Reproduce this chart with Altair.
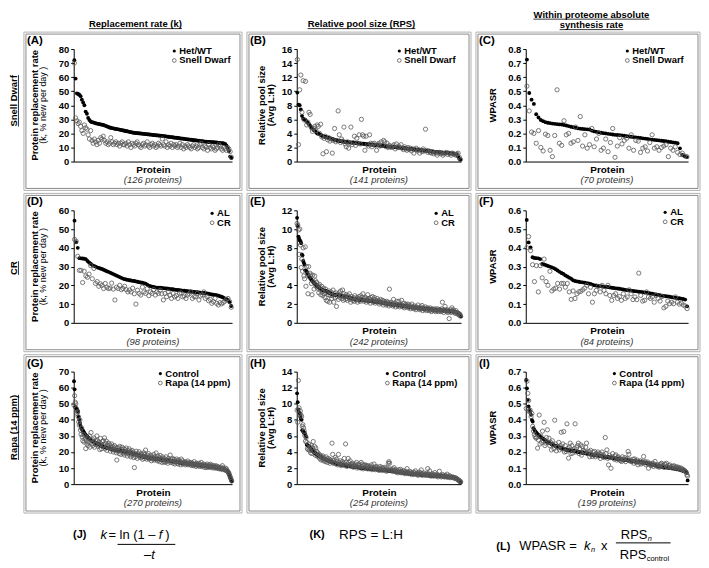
import altair as alt
import pandas as pd

FONT = "Liberation Sans"
ONE = pd.DataFrame({"d": [0]})

# ---------------- data ----------------
A_ctrl = [72, 59, 48.5, 48, 47.5, 46.5, 44, 42, 40, 35.5, 34, 31, 29.5, 28.5, 28,
          27.8, 27.5, 27.2, 27, 26.8, 26.6, 26.4, 26.2, 26, 25.7, 25.4, 25, 24.6, 24.2, 24, 23.8, 23.6, 23.4, 23.2, 23, 22.9, 22.7, 22.5, 22.3, 22.1, 21.9,
          21.7, 21.5, 21.3, 21.1, 20.9, 20.7, 20.5, 20.4, 20.3, 20.2, 20.1, 20, 19.9, 19.8, 19.7, 19.6, 19.5, 19.4, 19.3, 19.2, 19.1, 19, 18.9, 18.8, 18.7, 18.6, 18.5, 18.4, 18.3, 18.2,
          18.1, 18, 17.9, 17.7, 17.6, 17.5, 17.4, 17.3, 17.1, 17, 16.9, 16.8, 16.7, 16.5, 16.4, 16.3, 16.2, 16.1, 15.9, 15.8,
          15.7, 15.6, 15.5, 15.3, 15.2, 15.1, 15, 14.9, 14.8, 14.6, 14.5, 14.4, 14.3, 14.2, 14.1, 14, 13.9, 13.9, 13.8, 13.8,
          13.7, 13.6, 13.5, 13.4, 13.3, 13.2, 13.1, 13, 12.8, 12.5, 11.5, 9.5, 7.5, 3.5, 2.5]
A_trt = [70, 31, 29, 27, 28, 25, 22, 20, 26, 24, 23, 19, 16, 22, 15, 13, 16, 14, 12, 15, 13, 17, 16, 18, 15, 13, 14, 12, 13, 17, 14, 12, 13, 14, 12, 13, 11, 13, 14, 12,
         12, 13, 11, 14, 12, 10, 13, 12, 11, 13, 14, 12, 11, 10, 12, 13, 11, 12, 14, 11, 10, 12, 13, 11, 12, 10, 11, 13, 12, 11, 16, 12, 11, 14, 10, 12, 11, 13, 10, 12,
         11, 12, 10, 11, 13, 10, 12, 9, 11, 10, 12, 11, 10, 9, 11, 12, 10, 11, 9, 10, 12, 13, 10, 9, 11, 10, 8, 12, 10, 9, 11, 10, 8, 9, 10, 12, 11, 9, 8, 10, 9, 8, 10, 9, 7, 3]

B_ctrl = [9.8, 8.1, 8.0, 7.4, 6.5, 6.1, 6.0, 5.9, 5.7, 5.5, 5.3, 5.1, 4.9, 4.7, 4.5, 4.4, 4.2, 4.0, 3.95, 3.9,
          3.8, 3.7, 3.6, 3.55, 3.5, 3.45, 3.4, 3.35, 3.3, 3.25, 3.2, 3.15, 3.1, 3.05, 3.0, 2.97, 2.94, 2.91, 2.88, 2.85,
          2.83, 2.81, 2.79, 2.77, 2.75, 2.73, 2.71, 2.69, 2.67, 2.65, 2.63, 2.61, 2.6, 2.58, 2.57, 2.55, 2.54, 2.53, 2.51, 2.5,
          2.48, 2.46, 2.44, 2.42, 2.4, 2.38, 2.36, 2.35, 2.33, 2.31, 2.29, 2.27, 2.25, 2.23, 2.21, 2.2, 2.18, 2.16, 2.14, 2.12,
          2.1, 2.09, 2.08, 2.06, 2.05, 2.04, 2.02, 2.0,
          1.98, 1.96, 1.94, 1.92, 1.9, 1.88, 1.86, 1.84, 1.82, 1.8, 1.78, 1.76, 1.74, 1.72, 1.7, 1.68, 1.66, 1.64, 1.62, 1.6,
          1.58, 1.56, 1.54, 1.52, 1.5, 1.48, 1.46, 1.43, 1.4,
          1.39, 1.37, 1.36, 1.34, 1.33, 1.31, 1.3, 1.28, 1.27, 1.25, 1.24, 1.22, 1.21, 1.19, 1.18, 1.16, 1.15, 1.13, 1.12, 1.1,
          1.0, 0.7, 0.4, 0.25]
B_trt = [14.5, 2.4, 10.2, 12.3, 7.0, 11.5, 5.9, 11.4, 5.2, 5.6, 7.0, 6.7, 4.8, 4.3, 4.7, 5.0, 4.4, 5.2, 5.0, 4.0,
         5.3, 3.5, 1.1, 3.3, 3.6, 1.4, 3.1, 3.4, 2.9, 3.2, 1.2, 3.0, 4.7, 2.8, 3.0, 7.2, 3.8, 2.7, 3.2, 2.9,
         4.9, 2.5, 2.1, 2.8, 1.9, 2.6, 4.9, 2.4, 2.7, 3.6, 2.3, 3.3, 2.6, 3.8, 2.5, 6.0, 3.8, 3.6, 1.6, 3.6,
         2.4, 2.2, 3.8, 2.6, 2.1, 2.5, 2.6, 2.3, 1.6, 2.4, 2.6, 2.2, 2.8, 2.3, 3.0, 2.8, 2.1, 2.6, 2.0, 2.3,
         2.1, 2.0, 2.2, 2.4, 1.8, 2.5, 2.0, 2.2, 2.0, 2.4, 1.9, 1.7, 2.1, 1.8, 1.6, 2.0, 1.7, 1.9, 1.5, 1.8,
         1.2, 1.7, 1.9, 1.5, 1.7, 1.2, 1.6, 1.4, 1.8, 1.5, 4.6, 1.6, 1.3, 1.5, 1.3, 1.2, 1.4, 1.1, 1.3, 1.2,
         0.9, 1.2, 1.3, 1.1, 1.2, 0.9, 1.1, 1.2, 1.3, 1.0, 1.2, 1.1, 0.9, 1.2, 1.1, 1.0, 0.9, 1.1, 1.2, 0.6, 0.3]

C_ctrl = [0.725, 0.487, 0.44, 0.41, 0.336, 0.313, 0.295, 0.287, 0.28, 0.276, 0.273, 0.27, 0.268, 0.266, 0.264, 0.263, 0.26, 0.256, 0.252, 0.247,
          0.244, 0.24, 0.236, 0.234, 0.232, 0.23, 0.229, 0.228, 0.22, 0.214, 0.211, 0.208, 0.205, 0.202, 0.2, 0.197, 0.195, 0.192, 0.19, 0.189,
          0.188, 0.186, 0.183, 0.181, 0.178, 0.176, 0.174, 0.172, 0.17, 0.168, 0.165, 0.163, 0.161, 0.158, 0.156, 0.154, 0.152, 0.15, 0.148, 0.146,
          0.144, 0.141, 0.139, 0.136, 0.134, 0.13, 0.094, 0.047, 0.038, 0.031]
C_trt = [0.536, 0.36, 0.21, 0.2, 0.13, 0.22, 0.1, 0.075, 0.195, 0.185, 0.08, 0.035, 0.185, 0.51, 0.13, 0.115, 0.29, 0.19, 0.2, 0.13,
         0.14, 0.245, 0.15, 0.32, 0.11, 0.19, 0.095, 0.12, 0.235, 0.105, 0.16, 0.2, 0.08, 0.095, 0.16, 0.07, 0.135, 0.235, 0.03, 0.11,
         0.17, 0.125, 0.15, 0.165, 0.095, 0.19, 0.08, 0.15, 0.145, 0.065, 0.095, 0.105, 0.075, 0.135, 0.19, 0.095, 0.105, 0.08, 0.1, 0.11,
         0.12, 0.035, 0.095, 0.08, 0.105, 0.065, 0.05, 0.06, 0.04, 0.035]

D_ctrl = [54.5, 43, 40, 34.5, 34.4, 34.3, 34.2, 34, 33, 32.2, 31.5, 30.8, 30.4, 30, 29.6, 29.3, 29, 28.7, 28.3, 27.9,
          27.5, 27.2, 26.8, 26.4, 26, 25.6, 25.2, 24.8, 24.4, 24, 23.6, 23.3, 23.1, 22.9, 22.7, 22.6, 22.4, 22.3, 22.1, 21.9,
          21.7, 21.5, 21.4, 21.2, 20.9, 20.4, 19.8, 19.6, 19.3, 19.1, 18.9, 18.8, 18.7, 18.7, 18.6, 18.5, 18.4, 18.3, 18.2, 18.1,
          18, 17.9, 17.7, 17.6, 17.5, 17.4, 17.3, 17.2, 17.1, 17, 16.9, 16.8, 16.7, 16.6, 16.5, 16.4, 16.3, 16.2, 16.1, 16,
          15.9, 15.8, 15.7, 15.5, 15.3, 15.1, 15, 14.9, 14.8, 14.5, 14.2, 13.9, 13.5, 13, 12.6, 12.2, 11, 9]
D_trt = [44.5, 43.5, 35.5, 28, 28, 21.5, 27.5, 25, 24.3, 26, 30.5, 23.5, 29, 21, 22, 19.5, 20.8, 20, 18.3, 21,
         19, 18.3, 18.5, 21.2, 18, 12.2, 19, 18.3, 20, 17.7, 18.3, 19.5, 17.7, 16.5, 17.5, 16.5, 18.5, 15.5, 10, 17.4,
         15.7, 14.8, 19, 16.5, 15.7, 18.3, 14.5, 16.5, 15.7, 17.7, 14.8, 16.5, 15.7, 17.4, 15.5, 12.2, 15.7, 13.9, 16.5, 14.8,
         13, 15.7, 13.9, 14.5, 13, 15.7, 16, 13.9, 14.3, 13, 14.8, 15.5, 16.5, 13, 14, 13.9, 15.7, 12.2, 14.3, 15,
         16.5, 13, 14, 11.8, 12.5, 10.4, 11.3, 13, 10.4, 9.5, 10.8, 10.1, 10.8, 11.5, 12.5, 13, 11.3, 8.3]

E_ctrl = [11.2, 10.3, 9.2, 9.0, 8.8, 8.7, 8.5, 7.3, 7.2, 6.6,
          6.4, 6.2, 5.6, 5.55, 5.5, 5.35, 5.2, 5.05, 4.95, 4.8,
          4.7, 4.6, 4.5, 4.42, 4.34, 4.26, 4.18, 4.1, 4.04, 3.98,
          3.92, 3.86, 3.8, 3.74, 3.68, 3.62, 3.56, 3.5, 3.48, 3.46,
          3.44, 3.42, 3.4, 3.36, 3.33, 3.29, 3.26, 3.22, 3.19, 3.15,
          3.12, 3.09, 3.06, 3.03, 3.0, 2.99, 2.98, 2.97, 2.96, 2.95,
          2.94, 2.93, 2.92, 2.91, 2.9, 2.88, 2.87, 2.85, 2.84, 2.82,
          2.81, 2.79, 2.78, 2.76, 2.75, 2.73, 2.71, 2.69, 2.67, 2.65,
          2.63, 2.61, 2.59, 2.57, 2.55, 2.54, 2.53, 2.52, 2.51, 2.5,
          2.49, 2.48, 2.47, 2.46, 2.45, 2.44, 2.44, 2.43, 2.42, 2.41,
          2.41, 2.4, 2.39, 2.39, 2.38, 2.37, 2.36, 2.35, 2.34, 2.33,
          2.32, 2.31, 2.29, 2.28, 2.27, 2.26, 2.25, 2.24, 2.23, 2.22,
          2.21, 2.2, 2.19, 2.18, 2.17, 2.16, 2.14, 2.13, 2.12, 2.1,
          2.09, 2.07, 2.06, 2.04, 2.03, 2.02, 2.01, 2.0, 1.99, 1.98,
          1.96, 1.95, 1.94, 1.93, 1.92, 1.91, 1.9, 1.89, 1.88, 1.87,
          1.87, 1.86, 1.86, 1.85, 1.84, 1.83, 1.82, 1.81, 1.8, 1.79,
          1.78, 1.77, 1.76, 1.75, 1.74, 1.73, 1.72, 1.71, 1.7, 1.69,
          1.68, 1.67, 1.65, 1.64, 1.63, 1.62, 1.61, 1.6, 1.59, 1.58,
          1.57, 1.56, 1.55, 1.54, 1.53, 1.53, 1.52, 1.51, 1.5, 1.49,
          1.49, 1.48, 1.48, 1.47, 1.46, 1.45, 1.45, 1.44, 1.43, 1.42,
          1.42, 1.41, 1.41, 1.4, 1.39, 1.39, 1.38, 1.37, 1.36, 1.36,
          1.35, 1.34, 1.34, 1.33, 1.33, 1.32, 1.32, 1.31, 1.31, 1.3,
          1.3, 1.3, 1.29, 1.29, 1.28, 1.27, 1.26, 1.25, 1.23, 1.21,
          1.19, 1.17, 1.16, 1.15, 1.12, 1.1, 1.07, 1.04, 1.0, 0.94,
          0.87, 0.7]
E_trt = [10.6, 10.4, 9.9, 7.3, 10.0, 8.3, 5.9, 6.8, 5.5, 8.0,
         5.0, 4.7, 8.1, 3.9, 6.0, 5.2, 3.1, 6.0, 4.9, 5.3,
         5.1, 4.2, 3.0, 5.1, 4.4, 3.6, 5.0, 4.5, 3.9, 4.3,
         3.7, 4.0, 3.2, 4.1, 3.5, 3.0, 3.9, 3.3, 2.9, 3.7,
         3.1, 2.7, 3.6, 2.4, 3.2, 2.3, 3.0, 3.4, 2.2, 2.9,
         3.3, 2.6, 2.9, 3.5, 2.2, 3.1, 2.7, 3.2, 1.75, 2.8,
         3.0, 2.5, 3.2, 2.7, 3.4, 2.9, 2.6, 3.5, 2.4, 3.1,
         2.8, 2.5, 3.0, 2.6, 2.4, 2.9, 2.7, 3.1, 2.5, 2.2,
         2.8, 2.6, 2.4, 2.7, 2.3, 2.9, 2.5, 2.4, 2.7, 2.2,
         2.6, 2.8, 2.4, 2.3, 2.9, 2.5, 2.7, 3.1, 2.3, 2.6,
         2.4, 2.7, 2.2, 2.5, 3.0, 2.3, 2.6, 2.5, 2.1, 2.7,
         2.4, 2.8, 2.2, 2.5, 2.7, 2.1, 2.4, 2.3, 2.6, 2.2,
         2.4, 2.0, 2.3, 2.5, 2.1, 2.2, 2.4, 1.9, 2.3, 2.1,
         2.2, 1.9, 2.3, 2.0, 2.2, 1.8, 3.6, 2.1, 1.9, 2.2,
         2.0, 1.8, 2.5, 1.9, 2.1, 1.7, 2.0, 2.3, 1.8, 1.9,
         2.3, 1.7, 2.0, 1.9, 2.4, 1.8, 1.7, 2.1, 1.6, 1.9,
         2.0, 1.7, 1.8, 2.0, 1.6, 1.9, 1.7, 1.5, 1.8, 2.0,
         1.6, 1.7, 1.5, 1.8, 1.6, 1.4, 1.7, 1.6, 1.9, 1.5,
         1.6, 1.4, 1.7, 1.5, 1.85, 1.3, 1.6, 1.5, 1.4, 1.7,
         1.5, 1.3, 1.6, 1.4, 1.5, 1.3, 1.6, 1.4, 1.2, 1.5,
         1.33, 1.4, 1.3, 1.5, 1.2, 1.4, 1.3, 1.5, 1.2, 1.4,
         1.3, 1.4, 1.2, 1.5, 2.2, 1.3, 1.1, 1.4, 1.75, 1.3,
         1.2, 1.4, 1.1, 1.3, 0.45, 1.2, 1.4, 1.1, 1.6, 1.3,
         1.4, 1.15, 1.2, 1.0, 1.3, 1.05, 1.1, 0.9, 1.0, 0.8,
         0.9, 0.7]

F_ctrl = [0.549, 0.429, 0.402, 0.35, 0.346, 0.345, 0.344, 0.34, 0.314, 0.311,
          0.307, 0.303, 0.3, 0.296, 0.292, 0.286, 0.279, 0.272, 0.266, 0.261,
          0.253, 0.247, 0.241, 0.235, 0.227, 0.223, 0.221, 0.219, 0.217, 0.216,
          0.214, 0.212, 0.21, 0.207, 0.204, 0.2, 0.199, 0.197, 0.196, 0.194,
          0.193, 0.192, 0.191, 0.189, 0.187, 0.186, 0.184, 0.183, 0.182, 0.18,
          0.178, 0.176, 0.174, 0.173, 0.172, 0.17, 0.169, 0.168, 0.166, 0.165,
          0.164, 0.162, 0.161, 0.159, 0.157, 0.155, 0.153, 0.151, 0.149, 0.147,
          0.145, 0.144, 0.142, 0.141, 0.139, 0.137, 0.135, 0.134, 0.132, 0.131,
          0.129, 0.127, 0.124, 0.088]
F_trt = [0.40, 0.46, 0.385, 0.31, 0.22, 0.305, 0.165, 0.305, 0.24, 0.34, 0.22, 0.2, 0.275, 0.17, 0.18, 0.185, 0.21, 0.18, 0.21, 0.21,
         0.19, 0.21, 0.165, 0.125, 0.17, 0.13, 0.155, 0.165, 0.168, 0.176, 0.185, 0.2, 0.155, 0.19, 0.11, 0.155, 0.173, 0.194, 0.165, 0.2,
         0.173, 0.155, 0.2, 0.146, 0.12, 0.146, 0.155, 0.13, 0.14, 0.12, 0.155, 0.13, 0.138, 0.176, 0.155, 0.124, 0.138, 0.124, 0.265, 0.146,
         0.116, 0.12, 0.165, 0.138, 0.13, 0.138, 0.11, 0.146, 0.13, 0.116, 0.14, 0.08, 0.088, 0.116, 0.102, 0.11, 0.102, 0.138, 0.11, 0.1,
         0.105, 0.095, 0.09, 0.076]

G_ctrl = [64, 59, 48, 47.5, 47, 46.5, 46, 45, 42, 40,
          38, 36.5, 35, 34.5, 34, 33.5, 32.8, 32.2, 31.6, 31,
          30.5, 30.1, 29.7, 29.3, 28.9, 28.6, 28.3, 28, 27.7, 27.4,
          27.1, 26.8, 26.6, 26.4, 26.2, 26, 25.9, 25.7, 25.5, 25.4,
          25.3, 25.1, 24.9, 24.7, 24.5, 24.3, 24.1, 23.9, 23.7, 23.5,
          23.3, 23.2, 23.1, 23, 22.9, 22.8, 22.7, 22.6, 22.5, 22.4,
          22.3, 22.2, 22.1, 22, 21.9, 21.8, 21.7, 21.6, 21.5, 21.4,
          21.3, 21.25, 21.2, 21.1, 21, 20.95, 20.9, 20.85, 20.8, 20.75,
          20.7, 20.65, 20.6, 20.55, 20.5, 20.4, 20.3, 20.2, 20.1, 20.0,
          19.95, 19.9, 19.85, 19.8, 19.7, 19.6, 19.5, 19.3, 19.2, 19.0,
          18.9, 18.8, 18.7, 18.6, 18.5, 18.5, 18.4, 18.3, 18.2, 18.1,
          18.0, 17.9, 17.8, 17.7, 17.6, 17.5, 17.4, 17.3, 17.2, 17.1,
          17.0, 16.9, 16.8, 16.75, 16.7, 16.6, 16.5, 16.45, 16.4, 16.3,
          16.25, 16.2, 16.15, 16.1, 16.05, 16.0, 15.95, 15.9, 15.85, 15.8,
          15.75, 15.7, 15.65, 15.6, 15.55, 15.5, 15.45, 15.4, 15.35, 15.3,
          15.25, 15.2, 15.15, 15.1, 15.05, 15.0, 14.95, 14.9, 14.85, 14.8,
          14.75, 14.7, 14.65, 14.6, 14.55, 14.5, 14.45, 14.4, 14.35, 14.3,
          14.2, 14.1, 14.0, 13.9, 13.85, 13.8, 13.75, 13.7, 13.6, 13.5,
          13.45, 13.4, 13.35, 13.3, 13.25, 13.2, 13.15, 13.1, 13.05, 13.0,
          12.95, 12.9, 12.85, 12.8, 12.75, 12.7, 12.65, 12.6, 12.55, 12.5,
          12.45, 12.4, 12.35, 12.3, 12.25, 12.2, 12.15, 12.1, 12.05, 12.0,
          11.95, 11.9, 11.85, 11.8, 11.75, 11.7, 11.65, 11.6, 11.55, 11.5,
          11.45, 11.4, 11.35, 11.3, 11.25, 11.2, 11.15, 11.1, 11.05, 11.0,
          10.95, 10.9, 10.85, 10.8, 10.75, 10.7, 10.65, 10.6, 10.55, 10.5,
          10.45, 10.4, 10.35, 10.3, 10.25, 10.2, 10.15, 10.1, 10.0, 9.9,
          9.8, 9.7, 9.6, 9.5, 9.4, 9.3, 9.2, 9.1, 8.9, 8.6,
          8.3, 8.0, 7.6, 7.0, 6.5, 5.5, 4.5, 3.5, 2.5, 1.8]
G_trt = [49, 55, 51, 50, 47, 44, 45, 42, 38.7, 36.7,
         40, 33.6, 31, 35, 29.4, 27, 31, 26.2, 30, 28,
         22.1, 27, 25, 28.8, 24, 26, 30, 23, 27.5, 32.1,
         25.3, 28, 24, 26.5, 28.8, 23, 25, 27, 24.5, 30,
         27.2, 23.5, 26, 24, 21.5, 28.4, 25, 22, 26.5, 23.5,
         27, 24.5, 28.8, 22, 25.5, 26.8, 21, 24, 23.3, 25.5,
         22.5, 24.5, 20.5, 23, 25, 21.5, 23.5, 20, 22.5, 24,
         21, 23, 19.5, 15, 22.5, 20.5, 22.6, 19, 23.5, 21,
         18.5, 21.8, 23, 20, 19, 22, 18.1, 21.5, 19.5, 22.5,
         20, 17.5, 21, 19, 22, 18, 20.5, 17, 19.5, 21,
         18, 20, 16.5, 10.3, 19, 17.1, 20.5, 18.5, 16, 19,
         17.5, 20.2, 18, 16.5, 19, 17, 18.5, 15.5, 17.5, 19.5,
         16, 18.5, 21.2, 17, 15.5, 18, 16.5, 19, 15.6, 17,
         16, 18, 14.5, 17, 15.6, 16.5, 18.5, 15, 17, 15.6,
         19.4, 16, 14.5, 17.5, 15, 16.5, 14, 17.9, 15.5, 16,
         13.5, 17, 15, 14, 16, 13.5, 15, 17, 14, 15,
         13, 16, 14.5, 15, 18.1, 13.5, 15.5, 14, 16, 13,
         14, 15.5, 12.5, 14.5, 14, 15.6, 13, 14.5, 12.5, 15,
         13.5, 14, 12, 15.6, 13, 14.5, 12.5, 13.5, 13, 14,
         12, 13.5, 13, 12.5, 14.4, 12, 13.5, 12.5, 13, 12,
         13.5, 11.5, 13, 12.5, 11.5, 14, 12, 12.5, 11, 13,
         12, 11.5, 12.1, 13, 11, 12.5, 11.5, 13.5, 11, 12,
         11.5, 12.5, 10.5, 11.5, 12, 10.3, 11.5, 12.5, 10.5, 11,
         12, 10.5, 11.5, 12.4, 10.5, 11, 11.5, 10, 11.5, 10.5,
         11, 10, 11.5, 10.5, 9.9, 11, 10, 10.5, 9.5, 10,
         9.5, 10.5, 9.5, 11.5, 9, 10, 9.5, 9, 10, 8.5,
         9.5, 8.5, 8, 7.5, 7, 6, 5, 4, 3, 2]

H_ctrl = [11.3, 10.2, 9.3, 9.0, 8.8, 8.4, 8.1, 8.0, 6.7, 6.6,
          6.5, 6.4, 6.3, 6.1, 5.9, 4.9, 4.85, 4.8, 4.7, 4.6,
          4.5, 4.4, 4.3, 4.22, 4.14, 4.06, 3.98, 3.9, 3.84, 3.78,
          3.72, 3.66, 3.6, 3.55, 3.5, 3.45, 3.4, 3.35, 3.3, 3.25,
          3.2, 3.16, 3.12, 3.09, 3.06, 3.02, 2.99, 2.95, 2.92, 2.88,
          2.85, 2.82, 2.79, 2.77, 2.74, 2.71, 2.68, 2.65, 2.62, 2.59,
          2.56, 2.55, 2.53, 2.52, 2.5, 2.49, 2.47, 2.46, 2.44, 2.42,
          2.41, 2.4, 2.38, 2.37, 2.36, 2.34, 2.33, 2.32, 2.3, 2.29,
          2.27, 2.26, 2.25, 2.24, 2.23, 2.21, 2.2, 2.19, 2.18, 2.17,
          2.16, 2.15, 2.14, 2.12, 2.11, 2.09, 2.08, 2.06, 2.05, 2.04,
          2.02, 2.01, 2.0, 1.99, 1.98, 1.98, 1.97, 1.96, 1.95, 1.94,
          1.94, 1.93, 1.93, 1.92, 1.91, 1.9, 1.89, 1.88, 1.88, 1.87,
          1.86, 1.86, 1.85, 1.85, 1.84, 1.83, 1.82, 1.81, 1.8, 1.79,
          1.78, 1.78, 1.77, 1.76, 1.75, 1.74, 1.73, 1.72, 1.71, 1.7,
          1.7, 1.69, 1.69, 1.68, 1.67, 1.65, 1.64, 1.62, 1.61, 1.6,
          1.59, 1.58, 1.57, 1.56, 1.55, 1.54, 1.52, 1.51, 1.5, 1.48,
          1.47, 1.46, 1.45, 1.44, 1.43, 1.42, 1.41, 1.39, 1.38, 1.37,
          1.36, 1.35, 1.33, 1.32, 1.31, 1.3, 1.3, 1.29, 1.28, 1.28,
          1.27, 1.26, 1.26, 1.25, 1.24, 1.23, 1.23, 1.22, 1.21, 1.2,
          1.2, 1.19, 1.18, 1.17, 1.16, 1.15, 1.14, 1.14, 1.13, 1.12,
          1.11, 1.1, 1.1, 1.09, 1.08, 1.07, 1.07, 1.06, 1.06, 1.05,
          1.05, 1.04, 1.04, 1.03, 1.03, 1.03, 1.02, 1.02, 1.01, 1.01,
          1.0, 1.0, 0.99, 0.99, 0.98, 0.98, 0.97, 0.97, 0.96, 0.95,
          0.95, 0.94, 0.93, 0.92, 0.91, 0.9, 0.89, 0.88, 0.87, 0.86,
          0.85, 0.84, 0.83, 0.82, 0.81, 0.78, 0.72, 0.65, 0.58, 0.5,
          0.42, 0.35, 0.28, 0.2]
H_trt = [9.2, 7.7, 12.9, 9.5, 8.8, 9.1, 8.6, 8.4, 7.2, 7.4,
         7.0, 6.6, 6.05, 5.35, 5.8, 5.2, 4.4, 4.3, 5.0, 4.2,
         4.6, 3.9, 4.8, 3.8, 4.5, 5.3, 4.1, 4.7, 3.6, 4.5,
         4.1, 3.5, 3.9, 3.4, 3.7, 3.2, 3.6, 3.0, 3.4, 3.1,
         3.5, 2.9, 3.3, 3.1, 2.8, 3.4, 3.0, 2.7, 3.2, 2.9,
         3.1, 2.6, 3.0, 2.8, 5.1, 3.7, 2.6, 3.0, 2.7, 3.3,
         2.5, 3.1, 2.8, 2.4, 3.7, 2.7, 2.5, 2.9, 2.3, 2.6,
         2.8, 2.4, 2.6, 3.2, 2.3, 5.0, 2.7, 2.2, 2.5, 3.2,
         2.7, 2.4, 2.9, 2.2, 2.5, 2.3, 2.6, 2.1, 2.4, 2.3,
         2.5, 2.2, 2.7, 2.0, 2.4, 2.1, 2.5, 2.3, 2.0, 2.7,
         2.2, 2.5, 1.9, 2.3, 2.1, 2.4, 2.0, 2.35, 2.2, 1.9,
         2.3, 2.1, 1.9, 2.2, 2.0, 2.4, 1.8, 2.1, 1.9, 2.5,
         2.0, 1.8, 2.2, 1.9, 2.1, 1.8, 2.0, 1.7, 2.2, 1.9,
         1.8, 2.1, 1.7, 2.0, 1.9, 1.75, 2.1, 1.8, 1.6, 2.0,
         1.8, 2.6, 2.8, 2.6, 1.9, 1.7, 1.8, 1.6, 1.9, 1.7,
         2.05, 1.6, 1.8, 1.5, 1.7, 1.6, 1.4, 1.8, 1.5, 1.6,
         1.85, 1.4, 1.6, 1.5, 1.7, 1.4, 1.5, 1.3, 1.6, 1.4,
         1.93, 1.5, 1.3, 1.4, 1.6, 1.3, 1.5, 1.2, 1.4, 1.3,
         1.5, 1.2, 1.4, 1.65, 1.3, 1.2, 1.4, 1.1, 1.3, 1.5,
         1.2, 1.4, 1.77, 1.1, 1.3, 1.2, 1.4, 1.1, 1.2, 1.3,
         1.1, 1.2, 1.93, 1.3, 1.1, 1.65, 1.2, 1.0, 1.15, 1.3,
         1.1, 1.0, 1.2, 1.44, 1.1, 1.0, 1.2, 1.05, 0.9, 1.1,
         1.6, 1.0, 1.1, 0.9, 1.03, 1.2, 0.95, 1.0, 0.9, 1.1,
         1.0, 0.9, 1.24, 0.85, 1.0, 0.9, 1.05, 0.8, 0.9, 0.85,
         0.9, 0.8, 0.85, 0.75, 0.8, 0.7, 0.75, 0.65, 0.6, 0.55,
         0.5, 0.4, 0.35, 0.3]

I_ctrl = [0.648, 0.596, 0.524, 0.483, 0.462, 0.451, 0.431, 0.4, 0.389, 0.348,
          0.338, 0.33, 0.323, 0.317, 0.311, 0.306, 0.301, 0.296, 0.292, 0.288,
          0.285, 0.282, 0.278, 0.274, 0.269, 0.265, 0.262, 0.26, 0.257, 0.255,
          0.253, 0.25, 0.248, 0.245, 0.243, 0.24, 0.238, 0.235, 0.233, 0.231,
          0.23, 0.228, 0.227, 0.225, 0.224, 0.222, 0.22, 0.218, 0.216, 0.214,
          0.213, 0.212, 0.211, 0.21, 0.21, 0.209, 0.208, 0.207, 0.207, 0.206,
          0.205, 0.204, 0.203, 0.202, 0.201, 0.2, 0.199, 0.198, 0.197, 0.196,
          0.195, 0.194, 0.193, 0.192, 0.191, 0.19, 0.189, 0.187, 0.186, 0.185,
          0.184, 0.183, 0.182, 0.181, 0.18, 0.18, 0.179, 0.178, 0.178, 0.177,
          0.176, 0.175, 0.174, 0.173, 0.172, 0.171, 0.17, 0.169, 0.169, 0.168,
          0.167, 0.167, 0.166, 0.165, 0.165, 0.164, 0.163, 0.162, 0.161, 0.16,
          0.16, 0.159, 0.158, 0.157, 0.156, 0.155, 0.154, 0.154, 0.153, 0.152,
          0.151, 0.15, 0.149, 0.149, 0.148, 0.148, 0.147, 0.146, 0.146, 0.145,
          0.145, 0.144, 0.143, 0.142, 0.141, 0.14, 0.14, 0.139, 0.138, 0.137,
          0.137, 0.136, 0.135, 0.134, 0.133, 0.133, 0.132, 0.131, 0.13, 0.129,
          0.128, 0.126, 0.124, 0.123, 0.122, 0.121, 0.12, 0.119, 0.118, 0.116,
          0.115, 0.114, 0.112, 0.111, 0.11, 0.109, 0.108, 0.107, 0.106, 0.105,
          0.105, 0.104, 0.104, 0.103, 0.103, 0.102, 0.102, 0.101, 0.1, 0.1,
          0.099, 0.098, 0.097, 0.096, 0.095, 0.094, 0.093, 0.092, 0.09, 0.089,
          0.088, 0.086, 0.084, 0.082, 0.08, 0.079, 0.077, 0.07, 0.023]
I_trt = [0.47, 0.64, 0.565, 0.52, 0.45, 0.46, 0.42, 0.44, 0.36, 0.33,
         0.31, 0.296, 0.286, 0.29, 0.224, 0.275, 0.43, 0.25, 0.3, 0.26,
         0.33, 0.27, 0.385, 0.24, 0.255, 0.29, 0.338, 0.26, 0.286, 0.24,
         0.26, 0.213, 0.27, 0.244, 0.22, 0.398, 0.25, 0.207, 0.23, 0.234,
         0.26, 0.213, 0.24, 0.323, 0.22, 0.25, 0.327, 0.2, 0.24, 0.203,
         0.375, 0.22, 0.162, 0.23, 0.255, 0.19, 0.24, 0.193, 0.21, 0.22,
         0.375, 0.2, 0.228, 0.24, 0.255, 0.19, 0.22, 0.244, 0.18, 0.234,
         0.21, 0.2, 0.203, 0.23, 0.255, 0.19, 0.2, 0.203, 0.17, 0.21,
         0.185, 0.172, 0.2, 0.18, 0.203, 0.17, 0.19, 0.186, 0.2, 0.175,
         0.19, 0.16, 0.185, 0.2, 0.17, 0.18, 0.165, 0.29, 0.19, 0.213,
         0.16, 0.12, 0.18, 0.165, 0.099, 0.17, 0.19, 0.162, 0.155, 0.175,
         0.182, 0.15, 0.165, 0.17, 0.151, 0.16, 0.145, 0.141, 0.17, 0.155,
         0.15, 0.165, 0.14, 0.155, 0.16, 0.203, 0.186, 0.145, 0.15, 0.14,
         0.141, 0.155, 0.13, 0.157, 0.145, 0.135, 0.15, 0.12, 0.14, 0.13,
         0.145, 0.125, 0.14, 0.13, 0.172, 0.135, 0.141, 0.12, 0.13, 0.138,
         0.099, 0.125, 0.13, 0.115, 0.12, 0.13, 0.11, 0.125, 0.141, 0.115,
         0.12, 0.11, 0.12, 0.105, 0.12, 0.125, 0.13, 0.11, 0.115, 0.104,
         0.125, 0.12, 0.13, 0.11, 0.105, 0.115, 0.12, 0.104, 0.11, 0.1,
         0.11, 0.115, 0.1, 0.105, 0.11, 0.095, 0.1, 0.105, 0.099, 0.09,
         0.1, 0.095, 0.089, 0.09, 0.085, 0.08, 0.075, 0.058, 0.05]

PROTEIN_COUNTS = [126, 141, 70, 98, 242, 84, 270, 254, 199]
PANEL_LETTERS = ["(A)", "(B)", "(C)", "(D)", "(E)", "(F)", "(G)", "(H)", "(I)"]
Y_MAX = [80, 16, 0.8, 60, 12, 0.6, 70, 14, 0.7]
Y_TICKS = [[0, 10, 20, 30, 40, 50, 60, 70, 80],
           [0, 2, 4, 6, 8, 10, 12, 14, 16],
           [0, 0.1, 0.2, 0.3, 0.4, 0.5, 0.6, 0.7, 0.8],
           [0, 10, 20, 30, 40, 50, 60],
           [0, 2, 4, 6, 8, 10, 12],
           [0, 0.1, 0.2, 0.3, 0.4, 0.5, 0.6],
           [0, 10, 20, 30, 40, 50, 60, 70],
           [0, 2, 4, 6, 8, 10, 12, 14],
           [0, 0.1, 0.2, 0.3, 0.4, 0.5, 0.6, 0.7]]
SERIES_NAMES = [("Het/WT", "Snell Dwarf"), ("AL", "CR"), ("Control", "Rapa (14 ppm)")]
COL_HEADERS = [["Replacement rate (k)"], ["Relative pool size (RPS)"],
               ["Within proteome absolute", "synthesis rate"]]
ROW_LABELS = ["Snell Dwarf", "CR", "Rapa (14 ppm)"]
CTRL = [A_ctrl, B_ctrl, C_ctrl, D_ctrl, E_ctrl, F_ctrl, G_ctrl, H_ctrl, I_ctrl]
TRT = [A_trt, B_trt, C_trt, D_trt, E_trt, F_trt, G_trt, H_trt, I_trt]

# ---------------- layout / style ----------------
WIDTHS = [159, 165, 163]
H = 113

BW = {' ': .278, '(': .333, ')': .333, '/': .278, ':': .333, '1': .556, '4': .556,
      'A': .722, 'C': .722, 'D': .722, 'H': .722, 'L': .611, 'P': .667, 'R': .722,
      'S': .667, 'W': .944, 'a': .556, 'b': .611, 'c': .556, 'e': .556, 'f': .333,
      'h': .611, 'i': .278, 'k': .556, 'l': .278, 'm': .889, 'n': .611, 'o': .611,
      'p': .611, 'r': .389, 's': .556, 't': .333, 'u': .611, 'v': .556, 'w': .778,
      'y': .556, 'z': .5}


def bold_width(s, size):
    return sum(BW.get(c, 0.6) for c in s) * size


def T(s, x, y, size=9.5, weight="bold", style="normal", align="center",
      baseline="middle", angle=0, color="black"):
    kw = dict(text=s, fontSize=size, fontWeight=weight, fontStyle=style,
              align=align, baseline=baseline, color=color, font=FONT)
    if angle:
        kw["angle"] = angle
    return alt.Chart(ONE).mark_text(**kw).encode(x=alt.value(x), y=alt.value(y))


def HR(x1, x2, y, color="black", w=1.0):
    return alt.Chart(ONE).mark_rule(color=color, strokeWidth=w).encode(
        x=alt.value(x1), x2=alt.value(x2), y=alt.value(y))


def VR(x, y1, y2, color="black", w=1.0):
    return alt.Chart(ONE).mark_rule(color=color, strokeWidth=w).encode(
        x=alt.value(x), y=alt.value(y1), y2=alt.value(y2))


def BOX(x1, y1, x2, y2, color):
    return alt.Chart(ONE).mark_rect(fillOpacity=0, stroke=color, strokeWidth=1).encode(
        x=alt.value(x1), x2=alt.value(x2), y=alt.value(y1), y2=alt.value(y2))


def DOT(x, y, filled):
    if filled:
        m = alt.Chart(ONE).mark_circle(size=10, color="black", opacity=1)
    else:
        m = alt.Chart(ONE).mark_point(shape="circle", size=14, filled=False,
                                      color="#555", strokeWidth=0.8, opacity=1)
    return m.encode(x=alt.value(x), y=alt.value(y))


# legend anchor per panel: (dot x, first-row y)
LEGEND_POS = [(101, 2), (103, 2), (102, 2),
              (139, 3), (140, 3), (140, 2),
              (87, 2), (91, 2), (89, 2)]


def panel(k):
    r, c = divmod(k, 3)
    w = WIDTHS[c]
    n = PROTEIN_COUNTS[k]
    fmt = ".1f" if c == 2 else "d"
    xs = alt.Scale(domain=[0, n], nice=False, zero=False)
    ys = alt.Scale(domain=[0, Y_MAX[k]], nice=False)
    xax = alt.Axis(title="Protein", labels=False, ticks=False, grid=False,
                   domainColor="black", domainWidth=1, titleFontSize=10,
                   titleFontWeight="bold", titleColor="black", titlePadding=3,
                   titleFont=FONT)
    yax = alt.Axis(values=Y_TICKS[k], format=fmt, title=None, grid=False,
                   domainColor="black", domainWidth=1, tickColor="black",
                   tickSize=3, labelFontSize=9.5, labelFontWeight="bold",
                   labelColor="black", labelPadding=2, labelFont=FONT)
    X = alt.X("i:Q", scale=xs, axis=xax)
    Y = alt.Y("v:Q", scale=ys, axis=yax)
    dc = pd.DataFrame({"i": [j + 0.5 for j in range(len(CTRL[k]))], "v": CTRL[k]})
    dt = pd.DataFrame({"i": [j + 0.5 for j in range(len(TRT[k]))], "v": TRT[k]})
    black = alt.Chart(dc).mark_circle(size=15, color="black", opacity=1).encode(x=X, y=Y)
    opn = alt.Chart(dt).mark_point(shape="circle", size=18, filled=False, color="#5a5a5a",
                                   strokeWidth=0.8, opacity=1).encode(x=X, y=Y)

    layers = []
    # frame (double grey border)
    bx1 = -50
    bx2 = w + (12 if c == 2 else 10)
    layers.append(BOX(bx1, -17, bx2, H + 29, "#b0b0b0"))
    layers.append(BOX(bx1 + 2, -15, bx2 - 2, H + 27, "#8a8a8a"))
    # panel letter
    layers.append(T(PANEL_LETTERS[k], -47, -8, size=11.5, align="left"))
    # y-axis titles
    if c == 0:
        layers.append(T("Protein replacement rate", -39, H / 2, size=9.5, angle=270))
        layers.append(T("(k, % new per day )", -30.5, H / 2, size=9, weight="normal", angle=270))
    elif c == 1:
        layers.append(T("Relative pool size", -35, H / 2, size=9.5, angle=270))
        layers.append(T("(Avg L:H)", -26, H / 2, size=9.5, angle=270))
    else:
        layers.append(T("WPASR", -33, H / 2, size=9.5, angle=270))
    # protein count
    layers.append(T("(%d proteins)" % n, w / 2, H + 19, size=9.5, weight="normal",
                    style="italic", color="#333"))
    # legend
    lx, ly = LEGEND_POS[k]
    n1, n2 = SERIES_NAMES[r]
    layers.append(DOT(lx, ly, True))
    layers.append(DOT(lx, ly + 9.5, False))
    layers.append(T(n1, lx + 5, ly, size=9.5, align="left"))
    layers.append(T(n2, lx + 5, ly + 9.5, size=9.5, align="left"))
    # column headers
    if r == 0:
        lines = COL_HEADERS[c]
        cx = [62, 65, 66][c]
        ys_ = [-25] if len(lines) == 1 else [-34.5, -24]
        for s, yy in zip(lines, ys_):
            layers.append(T(s, cx, yy, size=9.5))
            tw = bold_width(s, 9.5)
            layers.append(HR(cx - tw / 2, cx + tw / 2, yy + 4.5, w=0.8))
    # row labels
    if c == 0:
        s = ROW_LABELS[r]
        cy = [52, 58, 56][r]
        layers.append(T(s, -60, cy, size=9.5, angle=270))
        tw = bold_width(s, 9.5)
        layers.append(VR(-55.5, cy - tw / 2, cy + tw / 2, w=0.8))
    # formulas under the bottom row
    if r == 2 and c == 0:
        layers.append(T("(J)", 6, 164, size=11, align="center"))
        layers.append(T("k", 27, 164, size=13, weight="normal", style="italic", align="left"))
        layers.append(T("=", 35, 164, size=13, weight="normal", align="left"))
        layers.append(T("ln (1 \u2013 ", 46, 164, size=13, weight="normal", align="left"))
        layers.append(T("f", 85.5, 164, size=13, weight="normal", style="italic", align="left"))
        layers.append(T(")", 92, 164, size=13, weight="normal", align="left"))
        layers.append(HR(44, 102, 173.5, w=1))
        layers.append(T("\u2013t", 76, 184, size=13, weight="normal", style="italic"))
    if r == 2 and c == 1:
        layers.append(T("(K)", 20.5, 164, size=11, align="center"))
        layers.append(T("RPS = L:H", 42.5, 164, size=13.5, weight="normal", align="left"))
    if r == 2 and c == 2:
        layers.append(T("(L)", -22.5, 176, size=11, align="center"))
        layers.append(T("WPASR = ", -6.5, 175, size=13, weight="normal", align="left"))
        layers.append(T("k", 58.5, 175, size=13, weight="normal", style="italic", align="left"))
        layers.append(T("n", 65.5, 179, size=7.5, weight="normal", style="italic", align="left"))
        layers.append(T("x", 75.5, 175, size=13, weight="normal", align="left"))
        layers.append(T("RPS", 95.5, 164, size=13, weight="normal", align="left"))
        layers.append(T("n", 122.5, 168, size=7.5, weight="normal", style="italic", align="left"))
        layers.append(HR(90.5, 145.5, 172, w=1))
        layers.append(T("RPS", 94.5, 184, size=13, weight="normal", align="left"))
        layers.append(T("control", 121.5, 188, size=7.5, weight="normal", align="left"))

    layers.append(black)
    layers.append(opn)
    return alt.layer(*layers).properties(width=w, height=H)


chart = alt.concat(*[panel(k) for k in range(9)], columns=3,
                   spacing={"row": 49, "column": 65}, bounds="flush",
                   padding=0).configure(font=FONT).configure_view(stroke="transparent")

chart.save("out.html", embed_options={"renderer": "svg", "actions": False})
